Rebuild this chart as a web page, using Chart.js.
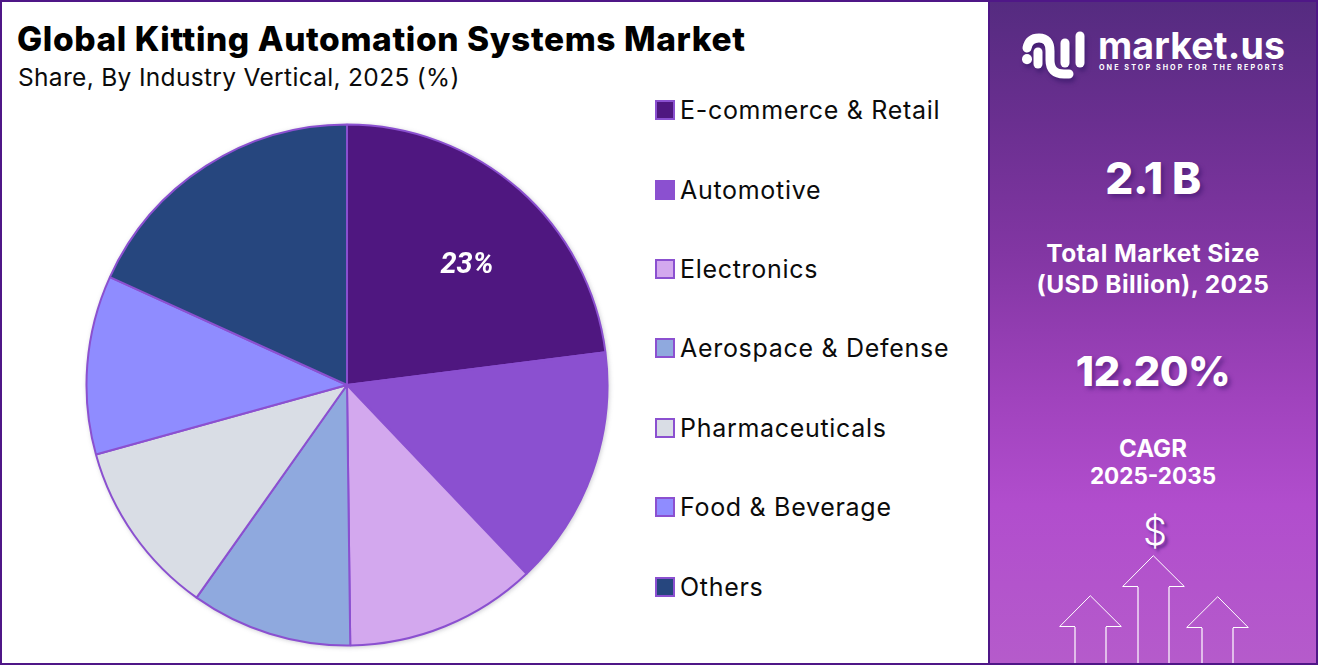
<!DOCTYPE html>
<html>
<head>
<meta charset="utf-8">
<title>Global Kitting Automation Systems Market</title>
<script src="https://cdn.jsdelivr.net/npm/chart.js@4"></script>
<style>
  html, body { margin: 0; padding: 0; background: #fff; }
  body { width: 1318px; height: 665px; position: relative; overflow: hidden; font-family: Inter, "Open Sans", sans-serif; color: #0b0b0b; }
  .frame { position: absolute; left: 0; top: 0; width: 988px; height: 661px; border: 2px solid #4f1787; border-right: 0; box-sizing: content-box; }
  .txt { position: absolute; white-space: nowrap; }
  #title { left: 17px; top: 19px; font-size: 33.5px; font-weight: 800; line-height: 40px; letter-spacing: 0.6px; color: #000; }
  #subtitle { left: 18px; top: 62px; font-size: 24.5px; font-weight: 400; line-height: 30px; letter-spacing: 0.32px; }
  #pie-box { position: absolute; left: 85px; top: 123px; width: 524px; height: 524px; filter: drop-shadow(1px 1px 2px rgba(60,60,80,.25)); }
  #pie-box canvas { display: block; }
  .legend-row { position: absolute; left: 655px; height: 30px; display: flex; align-items: center; }
  .legend-row i { display: block; width: 16px; height: 16px; border: 2px solid #8b50d0; margin-right: 5px; }
  .legend-row span { font-size: 25px; letter-spacing: 0.7px; line-height: 30px; white-space: nowrap; }

  #panel { position: absolute; left: 988px; top: 0; width: 330px; height: 665px; box-sizing: border-box; border: 2px solid #4f1787; overflow: hidden;
    background: linear-gradient(180deg, #552b80 0%, #6a2f90 18%, #8236a3 38%, #a043bd 60%, #b14dcd 76%, #b55bcb 100%); }
  .p { position: absolute; left: -2px; width: 330px; text-align: center; color: #fff; white-space: nowrap; }
  .big { font-weight: 800; text-shadow: 3px 3px 4px rgba(60,20,110,.55); }
  .mid { font-weight: 700; font-size: 24.5px; line-height: 30px; letter-spacing: 0.4px; }
  .small { font-weight: 700; font-size: 22.5px; line-height: 27px; }
  #panel svg { position: absolute; left: -990px; top: -2px; }
  #brand { position: absolute; left: 108px; top: 29px; font-size: 37.5px; font-weight: 700; line-height: 30px; color: #fff; letter-spacing: 0.15px; }
  #tagline { position: absolute; left: 109px; top: 61px; font-size: 7.2px; font-weight: 700; line-height: 10px; color: #fff; letter-spacing: 2.07px; }
</style>
</head>
<body>
<div class="frame"></div>
<div class="txt" id="title">Global Kitting Automation Systems Market</div>
<div class="txt" id="subtitle">Share, By Industry Vertical, 2025 (%)</div>

<div id="pie-box"><canvas id="share-pie" width="524" height="524"></canvas></div>
<div id="legend"></div>

<div id="panel">
  <svg width="1318" height="665" viewBox="0 0 1318 665" fill="none">
    <!-- logo mark -->
    <g style="filter: drop-shadow(2px 4px 2px rgba(50,20,100,.55))" stroke="#fff" stroke-width="9" stroke-linecap="round">
      <path d="M1027 48 Q1029 38 1039 38 Q1050 38 1050 51 V60 Q1050 74 1064 74 H1069"/>
      <path d="M1038 52 V64"/>
      <path d="M1065 43 V63"/>
      <path d="M1080 36 V63"/>
      <path d="M1027 59 V59.2" stroke-width="10"/>
    </g>
    <!-- rising arrows -->
    <g stroke="#fff" stroke-width="1">
      <path d="M1075 626.5 H1059.7 L1090.3 595.7 L1121.3 626.5 H1106"/>
      <path d="M1138 586.5 H1122.7 L1153.3 555.7 L1184.3 586.5 H1169"/>
      <path d="M1202 627.5 H1186.7 L1217.7 596.7 L1248.3 627.5 H1233"/>
    </g>
    <g stroke="#fff" stroke-opacity=".6" stroke-width="2">
      <path d="M1075 627 V665 M1106 627 V665 M1138 587 V665 M1169 587 V665 M1202 628 V665 M1233 628 V665"/>
    </g>
  </svg>
  <div id="brand">market.us</div>
  <div id="tagline">ONE STOP SHOP FOR THE REPORTS</div>
  <div class="p big" id="size-value" style="top:150px;font-size:44px;line-height:52px;letter-spacing:-0.5px">2.1 B</div>
  <div class="p mid" style="top:236px">Total Market Size</div>
  <div class="p mid" style="top:267px">(USD Billion), 2025</div>
  <div class="p big" id="cagr-value" style="top:342px;font-size:41.5px;line-height:54px;letter-spacing:-0.5px">12.20%</div>
  <div class="p small" style="top:433px;font-size:24px">CAGR</div>
  <div class="p small" style="top:460px">2025-2035</div>
  <div class="p" style="top:506px;left:0;font-size:38px;line-height:46px;font-weight:300;text-shadow:3px 3px 3px rgba(60,20,110,.6)">$</div>
</div>

<script>
  const categories = ['E-commerce & Retail', 'Automotive', 'Electronics', 'Aerospace & Defense', 'Pharmaceuticals', 'Food & Beverage', 'Others'];
  const shares = [23, 14.9, 11.9, 10, 10.9, 11.1, 18.2];
  const sliceColors = ['#4f1780', '#8b50d0', '#d3a8ee', '#8fa9de', '#d9dde5', '#8f8cff', '#26467e'];
  const labelledSlices = [0];
  const legendRows = [95, 175, 254, 333, 413, 492, 572];

  // legend rows beside the pie
  const legendEl = document.getElementById('legend');
  categories.forEach((name, i) => {
    const row = document.createElement('div');
    row.className = 'legend-row';
    row.style.top = legendRows[i] + 'px';
    const box = document.createElement('i');
    box.style.background = sliceColors[i];
    const text = document.createElement('span');
    text.textContent = name;
    row.append(box, text);
    legendEl.appendChild(row);
  });

  // percentage printed on the slices listed in labelledSlices
  const sliceLabels = {
    id: 'sliceLabels',
    afterDatasetsDraw(chart) {
      const { ctx } = chart;
      const arcs = chart.getDatasetMeta(0).data;
      ctx.save();
      ctx.font = 'italic 700 29px Roboto, sans-serif';
      ctx.fillStyle = '#fff';
      ctx.textAlign = 'center';
      ctx.textBaseline = 'middle';
      labelledSlices.forEach(i => {
        const { x, y, startAngle, endAngle, outerRadius } = arcs[i].getProps(['x', 'y', 'startAngle', 'endAngle', 'outerRadius'], true);
        const mid = (startAngle + endAngle) / 2;
        const r = outerRadius * 0.65;
        ctx.fillText(shares[i] + '%', x + Math.cos(mid) * r + 8, y + Math.sin(mid) * r + 8);
      });
      ctx.restore();
    }
  };

  new Chart(document.getElementById('share-pie'), {
    type: 'pie',
    data: {
      labels: categories,
      datasets: [{
        data: shares,
        backgroundColor: sliceColors,
        borderColor: '#8b50d0',
        borderWidth: 2,
        borderAlign: 'center'
      }]
    },
    options: {
      responsive: false,
      animation: false,
      radius: 260.5,
      layout: { padding: 0 },
      plugins: {
        legend: { display: false },
        tooltip: { enabled: false }
      }
    },
    plugins: [sliceLabels]
  });
</script>
</body>
</html>
